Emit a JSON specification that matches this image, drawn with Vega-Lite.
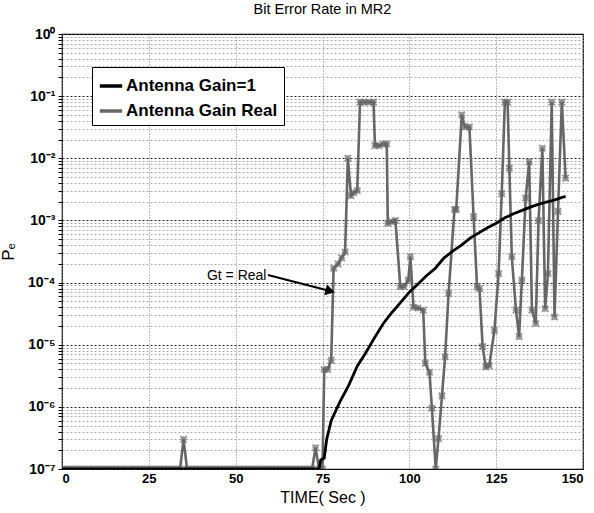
{
  "$schema": "https://vega.github.io/schema/vega-lite/v6.json",
  "autosize": "none",
  "width": 521,
  "height": 435,
  "padding": {"left": 62, "top": 34, "right": 11, "bottom": 44},
  "background": "white",
  "config": {
    "view": {"stroke": "black", "strokeWidth": 1.2},
    "font": "Liberation Sans"
  },
  "title": {"text": "Bit Error Rate in MR2", "fontSize": 14.5, "fontWeight": "normal", "font": "Liberation Sans", "offset": 10, "color": "black"},
  "datasets": {
    "series": [
      {"t": 0, "pe": 1e-7, "s": "Antenna Gain Real"}, {"t": 1, "pe": 1e-7, "s": "Antenna Gain Real"}, {"t": 2, "pe": 1e-7, "s": "Antenna Gain Real"}, {"t": 3, "pe": 1e-7, "s": "Antenna Gain Real"}, {"t": 4, "pe": 1e-7, "s": "Antenna Gain Real"}, {"t": 5, "pe": 1e-7, "s": "Antenna Gain Real"}, {"t": 6, "pe": 1e-7, "s": "Antenna Gain Real"}, {"t": 7, "pe": 1e-7, "s": "Antenna Gain Real"}, {"t": 8, "pe": 1e-7, "s": "Antenna Gain Real"}, {"t": 9, "pe": 1e-7, "s": "Antenna Gain Real"},
      {"t": 10, "pe": 1e-7, "s": "Antenna Gain Real"}, {"t": 11, "pe": 1e-7, "s": "Antenna Gain Real"}, {"t": 12, "pe": 1e-7, "s": "Antenna Gain Real"}, {"t": 13, "pe": 1e-7, "s": "Antenna Gain Real"}, {"t": 14, "pe": 1e-7, "s": "Antenna Gain Real"}, {"t": 15, "pe": 1e-7, "s": "Antenna Gain Real"}, {"t": 16, "pe": 1e-7, "s": "Antenna Gain Real"}, {"t": 17, "pe": 1e-7, "s": "Antenna Gain Real"}, {"t": 18, "pe": 1e-7, "s": "Antenna Gain Real"}, {"t": 19, "pe": 1e-7, "s": "Antenna Gain Real"},
      {"t": 20, "pe": 1e-7, "s": "Antenna Gain Real"}, {"t": 21, "pe": 1e-7, "s": "Antenna Gain Real"}, {"t": 22, "pe": 1e-7, "s": "Antenna Gain Real"}, {"t": 23, "pe": 1e-7, "s": "Antenna Gain Real"}, {"t": 24, "pe": 1e-7, "s": "Antenna Gain Real"}, {"t": 25, "pe": 1e-7, "s": "Antenna Gain Real"}, {"t": 26, "pe": 1e-7, "s": "Antenna Gain Real"}, {"t": 27, "pe": 1e-7, "s": "Antenna Gain Real"}, {"t": 28, "pe": 1e-7, "s": "Antenna Gain Real"}, {"t": 29, "pe": 1e-7, "s": "Antenna Gain Real"},
      {"t": 30, "pe": 1e-7, "s": "Antenna Gain Real"}, {"t": 31, "pe": 1e-7, "s": "Antenna Gain Real"}, {"t": 32, "pe": 1e-7, "s": "Antenna Gain Real"}, {"t": 33, "pe": 1e-7, "s": "Antenna Gain Real"}, {"t": 34, "pe": 1e-7, "s": "Antenna Gain Real"}, {"t": 35, "pe": 3e-7, "s": "Antenna Gain Real"}, {"t": 36, "pe": 1e-7, "s": "Antenna Gain Real"}, {"t": 37, "pe": 1e-7, "s": "Antenna Gain Real"}, {"t": 38, "pe": 1e-7, "s": "Antenna Gain Real"}, {"t": 39, "pe": 1e-7, "s": "Antenna Gain Real"},
      {"t": 40, "pe": 1e-7, "s": "Antenna Gain Real"}, {"t": 41, "pe": 1e-7, "s": "Antenna Gain Real"}, {"t": 42, "pe": 1e-7, "s": "Antenna Gain Real"}, {"t": 43, "pe": 1e-7, "s": "Antenna Gain Real"}, {"t": 44, "pe": 1e-7, "s": "Antenna Gain Real"}, {"t": 45, "pe": 1e-7, "s": "Antenna Gain Real"}, {"t": 46, "pe": 1e-7, "s": "Antenna Gain Real"}, {"t": 47, "pe": 1e-7, "s": "Antenna Gain Real"}, {"t": 48, "pe": 1e-7, "s": "Antenna Gain Real"}, {"t": 49, "pe": 1e-7, "s": "Antenna Gain Real"},
      {"t": 50, "pe": 1e-7, "s": "Antenna Gain Real"}, {"t": 51, "pe": 1e-7, "s": "Antenna Gain Real"}, {"t": 52, "pe": 1e-7, "s": "Antenna Gain Real"}, {"t": 53, "pe": 1e-7, "s": "Antenna Gain Real"}, {"t": 54, "pe": 1e-7, "s": "Antenna Gain Real"}, {"t": 55, "pe": 1e-7, "s": "Antenna Gain Real"}, {"t": 56, "pe": 1e-7, "s": "Antenna Gain Real"}, {"t": 57, "pe": 1e-7, "s": "Antenna Gain Real"}, {"t": 58, "pe": 1e-7, "s": "Antenna Gain Real"}, {"t": 59, "pe": 1e-7, "s": "Antenna Gain Real"},
      {"t": 60, "pe": 1e-7, "s": "Antenna Gain Real"}, {"t": 61, "pe": 1e-7, "s": "Antenna Gain Real"}, {"t": 62, "pe": 1e-7, "s": "Antenna Gain Real"}, {"t": 63, "pe": 1e-7, "s": "Antenna Gain Real"}, {"t": 64, "pe": 1e-7, "s": "Antenna Gain Real"}, {"t": 65, "pe": 1e-7, "s": "Antenna Gain Real"}, {"t": 66, "pe": 1e-7, "s": "Antenna Gain Real"}, {"t": 67, "pe": 1e-7, "s": "Antenna Gain Real"}, {"t": 68, "pe": 1e-7, "s": "Antenna Gain Real"}, {"t": 69, "pe": 1e-7, "s": "Antenna Gain Real"},
      {"t": 70, "pe": 1e-7, "s": "Antenna Gain Real"}, {"t": 71, "pe": 1e-7, "s": "Antenna Gain Real"}, {"t": 72, "pe": 1e-7, "s": "Antenna Gain Real"}, {"t": 73, "pe": 2.2e-7, "s": "Antenna Gain Real"}, {"t": 74, "pe": 1e-7, "s": "Antenna Gain Real"}, {"t": 75, "pe": 1e-7, "s": "Antenna Gain Real"},
      {"t": 75.5, "pe": 4e-6, "s": "Antenna Gain Real"}, {"t": 76.5, "pe": 4e-6, "s": "Antenna Gain Real"}, {"t": 77.5, "pe": 5.6e-6, "s": "Antenna Gain Real"},
      {"t": 78.2, "pe": 1.7e-4, "s": "Antenna Gain Real"}, {"t": 79.5, "pe": 2e-4, "s": "Antenna Gain Real"}, {"t": 80.5, "pe": 2.5e-4, "s": "Antenna Gain Real"}, {"t": 81.5, "pe": 3.1e-4, "s": "Antenna Gain Real"},
      {"t": 82.3, "pe": 1e-2, "s": "Antenna Gain Real"}, {"t": 83.2, "pe": 2.5e-3, "s": "Antenna Gain Real"}, {"t": 84, "pe": 2.8e-3, "s": "Antenna Gain Real"}, {"t": 85, "pe": 3e-3, "s": "Antenna Gain Real"},
      {"t": 85.8, "pe": 8e-2, "s": "Antenna Gain Real"}, {"t": 87, "pe": 8e-2, "s": "Antenna Gain Real"}, {"t": 88.3, "pe": 8e-2, "s": "Antenna Gain Real"}, {"t": 89.7, "pe": 8e-2, "s": "Antenna Gain Real"},
      {"t": 90.1, "pe": 1.6e-2, "s": "Antenna Gain Real"}, {"t": 91.3, "pe": 1.6e-2, "s": "Antenna Gain Real"}, {"t": 92.5, "pe": 1.7e-2, "s": "Antenna Gain Real"}, {"t": 93.5, "pe": 1.7e-2, "s": "Antenna Gain Real"},
      {"t": 93.8, "pe": 9e-4, "s": "Antenna Gain Real"}, {"t": 95, "pe": 9.5e-4, "s": "Antenna Gain Real"}, {"t": 96, "pe": 1e-3, "s": "Antenna Gain Real"},
      {"t": 97.4, "pe": 8.6e-5, "s": "Antenna Gain Real"}, {"t": 98.5, "pe": 8.6e-5, "s": "Antenna Gain Real"}, {"t": 99.7, "pe": 1.1e-4, "s": "Antenna Gain Real"}, {"t": 100.3, "pe": 2.6e-4, "s": "Antenna Gain Real"},
      {"t": 101.2, "pe": 4e-5, "s": "Antenna Gain Real"}, {"t": 102.5, "pe": 3.9e-5, "s": "Antenna Gain Real"}, {"t": 104, "pe": 3.6e-5, "s": "Antenna Gain Real"},
      {"t": 104.6, "pe": 5e-6, "s": "Antenna Gain Real"}, {"t": 105.8, "pe": 3.6e-6, "s": "Antenna Gain Real"}, {"t": 106.5, "pe": 9.5e-7, "s": "Antenna Gain Real"}, {"t": 107.6, "pe": 1e-7, "s": "Antenna Gain Real"},
      {"t": 108.4, "pe": 3.1e-7, "s": "Antenna Gain Real"}, {"t": 109.4, "pe": 1.5e-6, "s": "Antenna Gain Real"}, {"t": 110.3, "pe": 6.4e-6, "s": "Antenna Gain Real"}, {"t": 111.3, "pe": 6.7e-5, "s": "Antenna Gain Real"},
      {"t": 113.0, "pe": 1.5e-3, "s": "Antenna Gain Real"}, {"t": 113.5, "pe": 1.5e-3, "s": "Antenna Gain Real"}, {"t": 115.1, "pe": 5e-2, "s": "Antenna Gain Real"}, {"t": 116, "pe": 3.2e-2, "s": "Antenna Gain Real"}, {"t": 117.3, "pe": 3.2e-2, "s": "Antenna Gain Real"},
      {"t": 118.5, "pe": 1.15e-3, "s": "Antenna Gain Real"}, {"t": 119.5, "pe": 8.5e-5, "s": "Antenna Gain Real"}, {"t": 120.2, "pe": 8e-5, "s": "Antenna Gain Real"}, {"t": 121.1, "pe": 9.3e-6, "s": "Antenna Gain Real"},
      {"t": 122, "pe": 4.4e-6, "s": "Antenna Gain Real"}, {"t": 123, "pe": 4.6e-6, "s": "Antenna Gain Real"}, {"t": 124.5, "pe": 1.7e-5, "s": "Antenna Gain Real"}, {"t": 125.7, "pe": 1.4e-4, "s": "Antenna Gain Real"},
      {"t": 126.6, "pe": 2.7e-3, "s": "Antenna Gain Real"}, {"t": 127.5, "pe": 8e-2, "s": "Antenna Gain Real"}, {"t": 128.3, "pe": 8e-2, "s": "Antenna Gain Real"}, {"t": 128.8, "pe": 6.9e-3, "s": "Antenna Gain Real"},
      {"t": 129.5, "pe": 2.6e-4, "s": "Antenna Gain Real"}, {"t": 130.7, "pe": 3.6e-5, "s": "Antenna Gain Real"}, {"t": 131.6, "pe": 1.35e-5, "s": "Antenna Gain Real"}, {"t": 132.4, "pe": 1.1e-4, "s": "Antenna Gain Real"},
      {"t": 133.5, "pe": 2.3e-3, "s": "Antenna Gain Real"}, {"t": 134.5, "pe": 8.8e-3, "s": "Antenna Gain Real"}, {"t": 135.3, "pe": 3.6e-5, "s": "Antenna Gain Real"}, {"t": 136.4, "pe": 2.2e-5, "s": "Antenna Gain Real"},
      {"t": 137.2, "pe": 1e-3, "s": "Antenna Gain Real"}, {"t": 138.3, "pe": 1.45e-2, "s": "Antenna Gain Real"}, {"t": 139.1, "pe": 3.8e-5, "s": "Antenna Gain Real"}, {"t": 139.9, "pe": 1.4e-4, "s": "Antenna Gain Real"},
      {"t": 141, "pe": 8e-2, "s": "Antenna Gain Real"}, {"t": 141.8, "pe": 2.8e-5, "s": "Antenna Gain Real"}, {"t": 142.8, "pe": 1.4e-3, "s": "Antenna Gain Real"}, {"t": 143.9, "pe": 8e-2, "s": "Antenna Gain Real"}, {"t": 145, "pe": 4.8e-3, "s": "Antenna Gain Real"},
      {"t": 0, "pe": 1e-7, "s": "Antenna Gain=1"}, {"t": 74, "pe": 1e-7, "s": "Antenna Gain=1"}, {"t": 74.5, "pe": 1.4e-7, "s": "Antenna Gain=1"}, {"t": 75.5, "pe": 1.5e-7, "s": "Antenna Gain=1"},
      {"t": 76.2, "pe": 3e-7, "s": "Antenna Gain=1"}, {"t": 77.5, "pe": 6e-7, "s": "Antenna Gain=1"}, {"t": 80, "pe": 1.2e-6, "s": "Antenna Gain=1"}, {"t": 82.5, "pe": 2.2e-6, "s": "Antenna Gain=1"},
      {"t": 85, "pe": 4.5e-6, "s": "Antenna Gain=1"}, {"t": 87.5, "pe": 7.5e-6, "s": "Antenna Gain=1"}, {"t": 90, "pe": 1.3e-5, "s": "Antenna Gain=1"}, {"t": 92.5, "pe": 2.2e-5, "s": "Antenna Gain=1"},
      {"t": 95, "pe": 3.3e-5, "s": "Antenna Gain=1"}, {"t": 97.5, "pe": 4.8e-5, "s": "Antenna Gain=1"}, {"t": 100, "pe": 7e-5, "s": "Antenna Gain=1"}, {"t": 102.5, "pe": 9.5e-5, "s": "Antenna Gain=1"},
      {"t": 105, "pe": 1.3e-4, "s": "Antenna Gain=1"}, {"t": 107.5, "pe": 1.7e-4, "s": "Antenna Gain=1"}, {"t": 110, "pe": 2.5e-4, "s": "Antenna Gain=1"}, {"t": 112.5, "pe": 3.2e-4, "s": "Antenna Gain=1"},
      {"t": 115, "pe": 4e-4, "s": "Antenna Gain=1"}, {"t": 117.5, "pe": 5.2e-4, "s": "Antenna Gain=1"}, {"t": 120, "pe": 6.3e-4, "s": "Antenna Gain=1"}, {"t": 122.5, "pe": 7.6e-4, "s": "Antenna Gain=1"},
      {"t": 125, "pe": 9e-4, "s": "Antenna Gain=1"}, {"t": 127.5, "pe": 1.1e-3, "s": "Antenna Gain=1"}, {"t": 130, "pe": 1.28e-3, "s": "Antenna Gain=1"}, {"t": 132.5, "pe": 1.45e-3, "s": "Antenna Gain=1"},
      {"t": 135, "pe": 1.65e-3, "s": "Antenna Gain=1"}, {"t": 137.5, "pe": 1.85e-3, "s": "Antenna Gain=1"}, {"t": 140, "pe": 2e-3, "s": "Antenna Gain=1"}, {"t": 142.5, "pe": 2.2e-3, "s": "Antenna Gain=1"}, {"t": 145, "pe": 2.45e-3, "s": "Antenna Gain=1"}
    ],
    "note": [{"label": "Gt = Real", "tx": 50.3, "ty": 1.28e-4, "x1": 59.3, "y1": 1.32e-4, "x2": 77.2, "y2": 7.3e-5}]
  },
  "layer": [
    {
      "data": {"name": "series"},
      "transform": [{"filter": "datum.s == 'Antenna Gain Real'"}],
      "mark": {"type": "line", "strokeWidth": 2.6, "clip": true},
      "encoding": {
        "x": {"field": "t", "type": "quantitative", "scale": {"domain": [0, 150], "nice": false},
          "axis": {"values": [0, 25, 50, 75, 100, 125, 150], "title": "TIME( Sec )", "titleFontSize": 16, "titleFontWeight": "normal", "titleColor": "black", "titlePadding": 4,
            "labelFontSize": 13, "labelFontWeight": "bold", "labelColor": "black", "labelPadding": 3, "tickSize": 0, "domain": false,
            "grid": true, "gridDash": [1, 2], "gridColor": "#777", "gridWidth": 1}},
        "y": {"field": "pe", "type": "quantitative", "scale": {"type": "log", "domain": [1e-7, 1], "nice": false},
          "axis": {"values": [1e-7, 2e-7, 3e-7, 4e-7, 5e-7, 6e-7, 7e-7, 8e-7, 9e-7, 1e-6, 2e-6, 3e-6, 4e-6, 5e-6, 6e-6, 7e-6, 8e-6, 9e-6, 1e-5, 2e-5, 3e-5, 4e-5, 5e-5, 6e-5, 7e-5, 8e-5, 9e-5, 1e-4, 2e-4, 3e-4, 4e-4, 5e-4, 6e-4, 7e-4, 8e-4, 9e-4, 1e-3, 2e-3, 3e-3, 4e-3, 5e-3, 6e-3, 7e-3, 8e-3, 9e-3, 1e-2, 2e-2, 3e-2, 4e-2, 5e-2, 6e-2, 7e-2, 8e-2, 9e-2, 0.1, 0.2, 0.3, 0.4, 0.5, 0.6, 0.7, 0.8, 0.9, 1],
            "labelExpr": "abs(log(datum.value)/LN10 - round(log(datum.value)/LN10)) < 0.001 ? ['10⁰','10⁻¹','10⁻²','10⁻³','10⁻⁴','10⁻⁵','10⁻⁶','10⁻⁷'][-round(log(datum.value)/LN10)] : ''",
            "title": "Pₑ", "titleFontSize": 17, "titleFontWeight": "normal", "titleColor": "black", "titlePadding": 10,
            "labelFontSize": 14, "labelFontWeight": "bold", "labelColor": "black", "labelPadding": 3, "domain": false,
            "tickSize": 4, "tickColor": "black", "tickOffset": 0,
            "grid": true, "gridDash": [2, 2],
            "gridColor": {"condition": {"test": "abs(log(datum.value)/LN10 - round(log(datum.value)/LN10)) < 0.001", "value": "#222"}, "value": "#aaa"},
            "gridWidth": 1}},
        "color": {"field": "s", "type": "nominal", "scale": {"domain": ["Antenna Gain=1", "Antenna Gain Real"], "range": ["#000000", "#666666"]},
          "legend": {"orient": "none", "legendX": 30, "legendY": 33, "title": null, "symbolType": "stroke", "symbolStrokeWidth": 3.5, "symbolSize": 500,
            "labelFontSize": 17, "labelFontWeight": "bold", "labelColor": "black", "labelFont": "Liberation Sans", "labelOffset": 2,
            "strokeColor": "black", "fillColor": "white", "padding": 6, "rowPadding": 4, "symbolOffset": 0}}
      }
    },
    {
      "data": {"name": "series"},
      "transform": [{"filter": "datum.s == 'Antenna Gain Real'"}],
      "mark": {"type": "point", "shape": "M-1,-1L1,1M-1,1L1,-1M0,-1L0,1M-1,0L1,0", "filled": false, "size": 40, "strokeWidth": 1.8, "color": "#666666", "clip": true},
      "encoding": {
        "x": {"field": "t", "type": "quantitative"},
        "y": {"field": "pe", "type": "quantitative"}
      }
    },
    {
      "data": {"name": "series"},
      "transform": [{"filter": "datum.s == 'Antenna Gain=1'"}],
      "mark": {"type": "line", "strokeWidth": 2.8, "clip": true},
      "encoding": {
        "x": {"field": "t", "type": "quantitative"},
        "y": {"field": "pe", "type": "quantitative"},
        "color": {"field": "s", "type": "nominal"}
      }
    },
    {
      "data": {"name": "note"},
      "mark": {"type": "rule", "strokeWidth": 2, "color": "black"},
      "encoding": {
        "x": {"field": "x1", "type": "quantitative"},
        "y": {"field": "y1", "type": "quantitative"},
        "x2": {"field": "x2"},
        "y2": {"field": "y2"}
      }
    },
    {
      "data": {"name": "note"},
      "mark": {"type": "point", "shape": "triangle-right", "filled": true, "size": 120, "color": "black", "angle": 15, "opacity": 1},
      "encoding": {
        "x": {"field": "x2", "type": "quantitative"},
        "y": {"field": "y2", "type": "quantitative"}
      }
    },
    {
      "data": {"name": "note"},
      "mark": {"type": "text", "fontSize": 14, "font": "Liberation Sans", "color": "black", "align": "center", "baseline": "middle"},
      "encoding": {
        "x": {"field": "tx", "type": "quantitative"},
        "y": {"field": "ty", "type": "quantitative"},
        "text": {"field": "label"}
      }
    }
  ]
}
